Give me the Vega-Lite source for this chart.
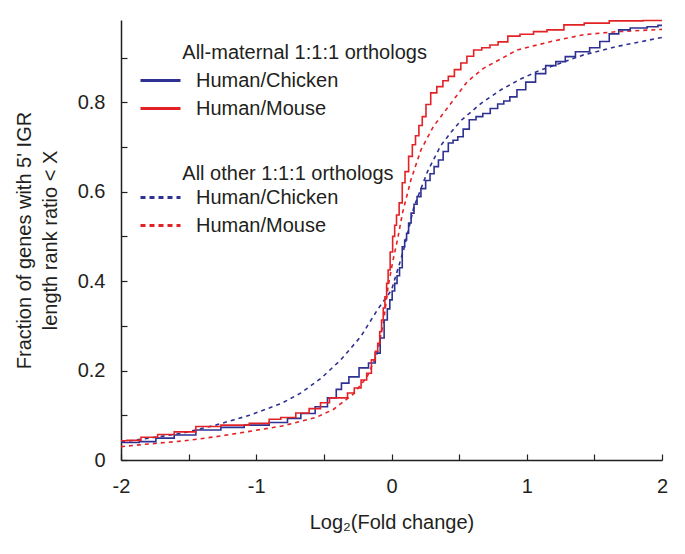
{
  "$schema": "https://vega.github.io/schema/vega-lite/v6.json",
  "autosize": "none",
  "width": 541,
  "height": 440,
  "padding": {"left": 121, "top": 20, "right": 23, "bottom": 94},
  "background": "white",
  "config": {
    "font": "Liberation Sans",
    "view": {"stroke": null},
    "axis": {"grid": false, "domainColor": "#231f20", "domainWidth": 1.5, "tickColor": "#231f20", "tickWidth": 1.2, "tickSize": -6, "labelColor": "#231f20", "titleColor": "#231f20", "labelFont": "Liberation Sans", "titleFont": "Liberation Sans", "labelFontSize": 20, "titleFontSize": 20, "titleFontWeight": "normal", "titleLineHeight": 26},
    "legend": {"labelFont": "Liberation Sans", "titleFont": "Liberation Sans", "labelFontSize": 20, "titleFontSize": 20, "titleFontWeight": "normal", "labelColor": "#231f20", "titleColor": "#231f20", "padding": 0, "symbolType": "M-2,0H2", "symbolSize": 400, "symbolStrokeWidth": 3, "symbolFillColor": "transparent", "labelOffset": 24, "rowPadding": 6, "titlePadding": 6, "labelLimit": 400, "titleLimit": 600}
  },
  "data": {"values": [
    {"group": "maternal", "pair": "Human/Chicken", "x": -2.0, "y": 0.039},
    {"group": "maternal", "pair": "Human/Chicken", "x": -1.915, "y": 0.039},
    {"group": "maternal", "pair": "Human/Chicken", "x": -1.816, "y": 0.041},
    {"group": "maternal", "pair": "Human/Chicken", "x": -1.668, "y": 0.049},
    {"group": "maternal", "pair": "Human/Chicken", "x": -1.545, "y": 0.056},
    {"group": "maternal", "pair": "Human/Chicken", "x": -1.348, "y": 0.067},
    {"group": "maternal", "pair": "Human/Chicken", "x": -1.175, "y": 0.073},
    {"group": "maternal", "pair": "Human/Chicken", "x": -1.003, "y": 0.078},
    {"group": "maternal", "pair": "Human/Chicken", "x": -0.806, "y": 0.084},
    {"group": "maternal", "pair": "Human/Chicken", "x": -0.732, "y": 0.093},
    {"group": "maternal", "pair": "Human/Chicken", "x": -0.609, "y": 0.104},
    {"group": "maternal", "pair": "Human/Chicken", "x": -0.52, "y": 0.119},
    {"group": "maternal", "pair": "Human/Chicken", "x": -0.427, "y": 0.139},
    {"group": "maternal", "pair": "Human/Chicken", "x": -0.39, "y": 0.158},
    {"group": "maternal", "pair": "Human/Chicken", "x": -0.35, "y": 0.172},
    {"group": "maternal", "pair": "Human/Chicken", "x": -0.28, "y": 0.186},
    {"group": "maternal", "pair": "Human/Chicken", "x": -0.2, "y": 0.206},
    {"group": "maternal", "pair": "Human/Chicken", "x": -0.14, "y": 0.217},
    {"group": "maternal", "pair": "Human/Chicken", "x": -0.1, "y": 0.239},
    {"group": "maternal", "pair": "Human/Chicken", "x": -0.067, "y": 0.273},
    {"group": "maternal", "pair": "Human/Chicken", "x": -0.042, "y": 0.313},
    {"group": "maternal", "pair": "Human/Chicken", "x": -0.02, "y": 0.338},
    {"group": "maternal", "pair": "Human/Chicken", "x": -0.005, "y": 0.358},
    {"group": "maternal", "pair": "Human/Chicken", "x": 0.015, "y": 0.378},
    {"group": "maternal", "pair": "Human/Chicken", "x": 0.032, "y": 0.395},
    {"group": "maternal", "pair": "Human/Chicken", "x": 0.05, "y": 0.412},
    {"group": "maternal", "pair": "Human/Chicken", "x": 0.069, "y": 0.43},
    {"group": "maternal", "pair": "Human/Chicken", "x": 0.09, "y": 0.477},
    {"group": "maternal", "pair": "Human/Chicken", "x": 0.105, "y": 0.492},
    {"group": "maternal", "pair": "Human/Chicken", "x": 0.118, "y": 0.507},
    {"group": "maternal", "pair": "Human/Chicken", "x": 0.135, "y": 0.53},
    {"group": "maternal", "pair": "Human/Chicken", "x": 0.155, "y": 0.552},
    {"group": "maternal", "pair": "Human/Chicken", "x": 0.178, "y": 0.572},
    {"group": "maternal", "pair": "Human/Chicken", "x": 0.2, "y": 0.589},
    {"group": "maternal", "pair": "Human/Chicken", "x": 0.235, "y": 0.607},
    {"group": "maternal", "pair": "Human/Chicken", "x": 0.27, "y": 0.625},
    {"group": "maternal", "pair": "Human/Chicken", "x": 0.3, "y": 0.64},
    {"group": "maternal", "pair": "Human/Chicken", "x": 0.33, "y": 0.656},
    {"group": "maternal", "pair": "Human/Chicken", "x": 0.364, "y": 0.671},
    {"group": "maternal", "pair": "Human/Chicken", "x": 0.4, "y": 0.69},
    {"group": "maternal", "pair": "Human/Chicken", "x": 0.44, "y": 0.709},
    {"group": "maternal", "pair": "Human/Chicken", "x": 0.47, "y": 0.715},
    {"group": "maternal", "pair": "Human/Chicken", "x": 0.51, "y": 0.723},
    {"group": "maternal", "pair": "Human/Chicken", "x": 0.55, "y": 0.74},
    {"group": "maternal", "pair": "Human/Chicken", "x": 0.6, "y": 0.761},
    {"group": "maternal", "pair": "Human/Chicken", "x": 0.65, "y": 0.768},
    {"group": "maternal", "pair": "Human/Chicken", "x": 0.7, "y": 0.775},
    {"group": "maternal", "pair": "Human/Chicken", "x": 0.76, "y": 0.786},
    {"group": "maternal", "pair": "Human/Chicken", "x": 0.81, "y": 0.796},
    {"group": "maternal", "pair": "Human/Chicken", "x": 0.85, "y": 0.803},
    {"group": "maternal", "pair": "Human/Chicken", "x": 0.9, "y": 0.812},
    {"group": "maternal", "pair": "Human/Chicken", "x": 0.955, "y": 0.828},
    {"group": "maternal", "pair": "Human/Chicken", "x": 1.03, "y": 0.845},
    {"group": "maternal", "pair": "Human/Chicken", "x": 1.1, "y": 0.864},
    {"group": "maternal", "pair": "Human/Chicken", "x": 1.18, "y": 0.882},
    {"group": "maternal", "pair": "Human/Chicken", "x": 1.25, "y": 0.891},
    {"group": "maternal", "pair": "Human/Chicken", "x": 1.32, "y": 0.902},
    {"group": "maternal", "pair": "Human/Chicken", "x": 1.4, "y": 0.913},
    {"group": "maternal", "pair": "Human/Chicken", "x": 1.53, "y": 0.922},
    {"group": "maternal", "pair": "Human/Chicken", "x": 1.55, "y": 0.936},
    {"group": "maternal", "pair": "Human/Chicken", "x": 1.67, "y": 0.953},
    {"group": "maternal", "pair": "Human/Chicken", "x": 1.69, "y": 0.962},
    {"group": "maternal", "pair": "Human/Chicken", "x": 1.84, "y": 0.966},
    {"group": "maternal", "pair": "Human/Chicken", "x": 1.94, "y": 0.969},
    {"group": "maternal", "pair": "Human/Chicken", "x": 2.0, "y": 0.972},
    {"group": "maternal", "pair": "Human/Mouse", "x": -2.0, "y": 0.043},
    {"group": "maternal", "pair": "Human/Mouse", "x": -1.915, "y": 0.044},
    {"group": "maternal", "pair": "Human/Mouse", "x": -1.79, "y": 0.051},
    {"group": "maternal", "pair": "Human/Mouse", "x": -1.668, "y": 0.057},
    {"group": "maternal", "pair": "Human/Mouse", "x": -1.545, "y": 0.063},
    {"group": "maternal", "pair": "Human/Mouse", "x": -1.348, "y": 0.075},
    {"group": "maternal", "pair": "Human/Mouse", "x": -1.175, "y": 0.078},
    {"group": "maternal", "pair": "Human/Mouse", "x": -0.929, "y": 0.082},
    {"group": "maternal", "pair": "Human/Mouse", "x": -0.88, "y": 0.091},
    {"group": "maternal", "pair": "Human/Mouse", "x": -0.757, "y": 0.095},
    {"group": "maternal", "pair": "Human/Mouse", "x": -0.658, "y": 0.105},
    {"group": "maternal", "pair": "Human/Mouse", "x": -0.56, "y": 0.115},
    {"group": "maternal", "pair": "Human/Mouse", "x": -0.49, "y": 0.128},
    {"group": "maternal", "pair": "Human/Mouse", "x": -0.427, "y": 0.139},
    {"group": "maternal", "pair": "Human/Mouse", "x": -0.35, "y": 0.139},
    {"group": "maternal", "pair": "Human/Mouse", "x": -0.3, "y": 0.15},
    {"group": "maternal", "pair": "Human/Mouse", "x": -0.25, "y": 0.161},
    {"group": "maternal", "pair": "Human/Mouse", "x": -0.2, "y": 0.179},
    {"group": "maternal", "pair": "Human/Mouse", "x": -0.167, "y": 0.194},
    {"group": "maternal", "pair": "Human/Mouse", "x": -0.13, "y": 0.224},
    {"group": "maternal", "pair": "Human/Mouse", "x": -0.11, "y": 0.243},
    {"group": "maternal", "pair": "Human/Mouse", "x": -0.094, "y": 0.261},
    {"group": "maternal", "pair": "Human/Mouse", "x": -0.08, "y": 0.287},
    {"group": "maternal", "pair": "Human/Mouse", "x": -0.067, "y": 0.313},
    {"group": "maternal", "pair": "Human/Mouse", "x": -0.055, "y": 0.34},
    {"group": "maternal", "pair": "Human/Mouse", "x": -0.042, "y": 0.365},
    {"group": "maternal", "pair": "Human/Mouse", "x": -0.03, "y": 0.395},
    {"group": "maternal", "pair": "Human/Mouse", "x": -0.02, "y": 0.425},
    {"group": "maternal", "pair": "Human/Mouse", "x": 0.0, "y": 0.465},
    {"group": "maternal", "pair": "Human/Mouse", "x": 0.017, "y": 0.5},
    {"group": "maternal", "pair": "Human/Mouse", "x": 0.03, "y": 0.525},
    {"group": "maternal", "pair": "Human/Mouse", "x": 0.044, "y": 0.548},
    {"group": "maternal", "pair": "Human/Mouse", "x": 0.069, "y": 0.575},
    {"group": "maternal", "pair": "Human/Mouse", "x": 0.09, "y": 0.62},
    {"group": "maternal", "pair": "Human/Mouse", "x": 0.11, "y": 0.645},
    {"group": "maternal", "pair": "Human/Mouse", "x": 0.143, "y": 0.679},
    {"group": "maternal", "pair": "Human/Mouse", "x": 0.165, "y": 0.705},
    {"group": "maternal", "pair": "Human/Mouse", "x": 0.19, "y": 0.725},
    {"group": "maternal", "pair": "Human/Mouse", "x": 0.215, "y": 0.748},
    {"group": "maternal", "pair": "Human/Mouse", "x": 0.24, "y": 0.768},
    {"group": "maternal", "pair": "Human/Mouse", "x": 0.27, "y": 0.795},
    {"group": "maternal", "pair": "Human/Mouse", "x": 0.31, "y": 0.821},
    {"group": "maternal", "pair": "Human/Mouse", "x": 0.36, "y": 0.835},
    {"group": "maternal", "pair": "Human/Mouse", "x": 0.4, "y": 0.848},
    {"group": "maternal", "pair": "Human/Mouse", "x": 0.44, "y": 0.858},
    {"group": "maternal", "pair": "Human/Mouse", "x": 0.49, "y": 0.873},
    {"group": "maternal", "pair": "Human/Mouse", "x": 0.535, "y": 0.888},
    {"group": "maternal", "pair": "Human/Mouse", "x": 0.58, "y": 0.903},
    {"group": "maternal", "pair": "Human/Mouse", "x": 0.635, "y": 0.917},
    {"group": "maternal", "pair": "Human/Mouse", "x": 0.7, "y": 0.922},
    {"group": "maternal", "pair": "Human/Mouse", "x": 0.756, "y": 0.928},
    {"group": "maternal", "pair": "Human/Mouse", "x": 0.82, "y": 0.935},
    {"group": "maternal", "pair": "Human/Mouse", "x": 0.9, "y": 0.948},
    {"group": "maternal", "pair": "Human/Mouse", "x": 1.0, "y": 0.952},
    {"group": "maternal", "pair": "Human/Mouse", "x": 1.1, "y": 0.958},
    {"group": "maternal", "pair": "Human/Mouse", "x": 1.2, "y": 0.962},
    {"group": "maternal", "pair": "Human/Mouse", "x": 1.35, "y": 0.973},
    {"group": "maternal", "pair": "Human/Mouse", "x": 1.5, "y": 0.977},
    {"group": "maternal", "pair": "Human/Mouse", "x": 1.72, "y": 0.982},
    {"group": "maternal", "pair": "Human/Mouse", "x": 2.0, "y": 0.983},
    {"group": "other", "pair": "Human/Chicken", "x": -2.0, "y": 0.04},
    {"group": "other", "pair": "Human/Chicken", "x": -1.79, "y": 0.049},
    {"group": "other", "pair": "Human/Chicken", "x": -1.545, "y": 0.06},
    {"group": "other", "pair": "Human/Chicken", "x": -1.3, "y": 0.078},
    {"group": "other", "pair": "Human/Chicken", "x": -1.05, "y": 0.1},
    {"group": "other", "pair": "Human/Chicken", "x": -0.81, "y": 0.127},
    {"group": "other", "pair": "Human/Chicken", "x": -0.67, "y": 0.15},
    {"group": "other", "pair": "Human/Chicken", "x": -0.52, "y": 0.183},
    {"group": "other", "pair": "Human/Chicken", "x": -0.375, "y": 0.224},
    {"group": "other", "pair": "Human/Chicken", "x": -0.227, "y": 0.276},
    {"group": "other", "pair": "Human/Chicken", "x": -0.104, "y": 0.336},
    {"group": "other", "pair": "Human/Chicken", "x": 0.0, "y": 0.38},
    {"group": "other", "pair": "Human/Chicken", "x": 0.09, "y": 0.47},
    {"group": "other", "pair": "Human/Chicken", "x": 0.165, "y": 0.565},
    {"group": "other", "pair": "Human/Chicken", "x": 0.266, "y": 0.645},
    {"group": "other", "pair": "Human/Chicken", "x": 0.31, "y": 0.671},
    {"group": "other", "pair": "Human/Chicken", "x": 0.364, "y": 0.703},
    {"group": "other", "pair": "Human/Chicken", "x": 0.44, "y": 0.733},
    {"group": "other", "pair": "Human/Chicken", "x": 0.51, "y": 0.758},
    {"group": "other", "pair": "Human/Chicken", "x": 0.66, "y": 0.797},
    {"group": "other", "pair": "Human/Chicken", "x": 0.81, "y": 0.828},
    {"group": "other", "pair": "Human/Chicken", "x": 0.955, "y": 0.852},
    {"group": "other", "pair": "Human/Chicken", "x": 1.1, "y": 0.872},
    {"group": "other", "pair": "Human/Chicken", "x": 1.18, "y": 0.88},
    {"group": "other", "pair": "Human/Chicken", "x": 1.42, "y": 0.906},
    {"group": "other", "pair": "Human/Chicken", "x": 1.67, "y": 0.925},
    {"group": "other", "pair": "Human/Chicken", "x": 2.0, "y": 0.945},
    {"group": "other", "pair": "Human/Mouse", "x": -2.0, "y": 0.03},
    {"group": "other", "pair": "Human/Mouse", "x": -1.79, "y": 0.036},
    {"group": "other", "pair": "Human/Mouse", "x": -1.545, "y": 0.0425},
    {"group": "other", "pair": "Human/Mouse", "x": -1.3, "y": 0.052},
    {"group": "other", "pair": "Human/Mouse", "x": -1.05, "y": 0.064},
    {"group": "other", "pair": "Human/Mouse", "x": -0.81, "y": 0.076},
    {"group": "other", "pair": "Human/Mouse", "x": -0.56, "y": 0.095},
    {"group": "other", "pair": "Human/Mouse", "x": -0.43, "y": 0.113},
    {"group": "other", "pair": "Human/Mouse", "x": -0.28, "y": 0.148},
    {"group": "other", "pair": "Human/Mouse", "x": -0.18, "y": 0.186},
    {"group": "other", "pair": "Human/Mouse", "x": -0.104, "y": 0.239},
    {"group": "other", "pair": "Human/Mouse", "x": -0.057, "y": 0.313},
    {"group": "other", "pair": "Human/Mouse", "x": -0.025, "y": 0.388},
    {"group": "other", "pair": "Human/Mouse", "x": 0.01, "y": 0.445},
    {"group": "other", "pair": "Human/Mouse", "x": 0.044, "y": 0.492},
    {"group": "other", "pair": "Human/Mouse", "x": 0.081, "y": 0.552},
    {"group": "other", "pair": "Human/Mouse", "x": 0.143, "y": 0.626},
    {"group": "other", "pair": "Human/Mouse", "x": 0.217, "y": 0.693},
    {"group": "other", "pair": "Human/Mouse", "x": 0.31, "y": 0.746},
    {"group": "other", "pair": "Human/Mouse", "x": 0.44, "y": 0.798},
    {"group": "other", "pair": "Human/Mouse", "x": 0.56, "y": 0.846},
    {"group": "other", "pair": "Human/Mouse", "x": 0.68, "y": 0.876},
    {"group": "other", "pair": "Human/Mouse", "x": 0.93, "y": 0.917},
    {"group": "other", "pair": "Human/Mouse", "x": 1.18, "y": 0.936},
    {"group": "other", "pair": "Human/Mouse", "x": 1.42, "y": 0.951},
    {"group": "other", "pair": "Human/Mouse", "x": 1.67, "y": 0.958},
    {"group": "other", "pair": "Human/Mouse", "x": 2.0, "y": 0.963}
  ]},
  "encoding": {
    "x": {"field": "x", "type": "quantitative", "scale": {"domain": [-2, 2], "nice": false, "zero": false},
      "axis": {"values": [-2, -1.5, -1, -0.5, 0, 0.5, 1, 1.5, 2], "labelExpr": "datum.value % 1 == 0 ? '' + datum.value : ''", "labelPadding": 22, "title": "Log₂(Fold change)", "titlePadding": 16, "labelFlush": false}},
    "y": {"field": "y", "type": "quantitative", "scale": {"domain": [0, 0.984], "nice": false},
      "axis": {"values": [0, 0.1, 0.2, 0.3, 0.4, 0.5, 0.6, 0.7, 0.8, 0.9], "labelExpr": "round(datum.value * 10) % 2 == 0 ? (datum.value == 0 ? '0' : format(datum.value, '.1f')) : ''", "labelPadding": 22, "title": ["Fraction of genes with 5' IGR", "length rank ratio < X"], "titleLineHeight": 26, "titlePadding": 17, "labelFlush": false}}
  },
  "layer": [
    {
      "transform": [{"filter": "datum.group == 'other'"}],
      "mark": {"type": "line", "strokeDash": [4, 4], "strokeWidth": 1.6},
      "encoding": {
        "color": {"field": "pair", "type": "nominal", "scale": {"domain": ["Human/Chicken", "Human/Mouse"], "range": ["#2e3192", "#e32226"]},
          "legend": {"title": "\u200b\u00a0\u00a0\u00a0\u00a0\u00a0\u00a0All other 1:1:1 orthologs", "orient": "none", "legendX": 28, "legendY": 144, "titlePadding": 2, "symbolDash": [5, 4]}}
      }
    },
    {
      "transform": [{"filter": "datum.group == 'maternal'"}],
      "mark": {"type": "line", "interpolate": "step", "strokeWidth": 1.6},
      "encoding": {
        "color": {"field": "pair", "type": "nominal", "scale": {"domain": ["Human/Chicken", "Human/Mouse"], "range": ["#2e3192", "#e32226"]},
          "legend": {"title": "\u200b\u00a0\u00a0\u00a0\u00a0\u00a0\u00a0All-maternal 1:1:1 orthologs", "orient": "none", "legendX": 28, "legendY": 23}}
      }
    }
  ],
  "resolve": {"scale": {"color": "independent"}, "legend": {"color": "independent"}}
}
